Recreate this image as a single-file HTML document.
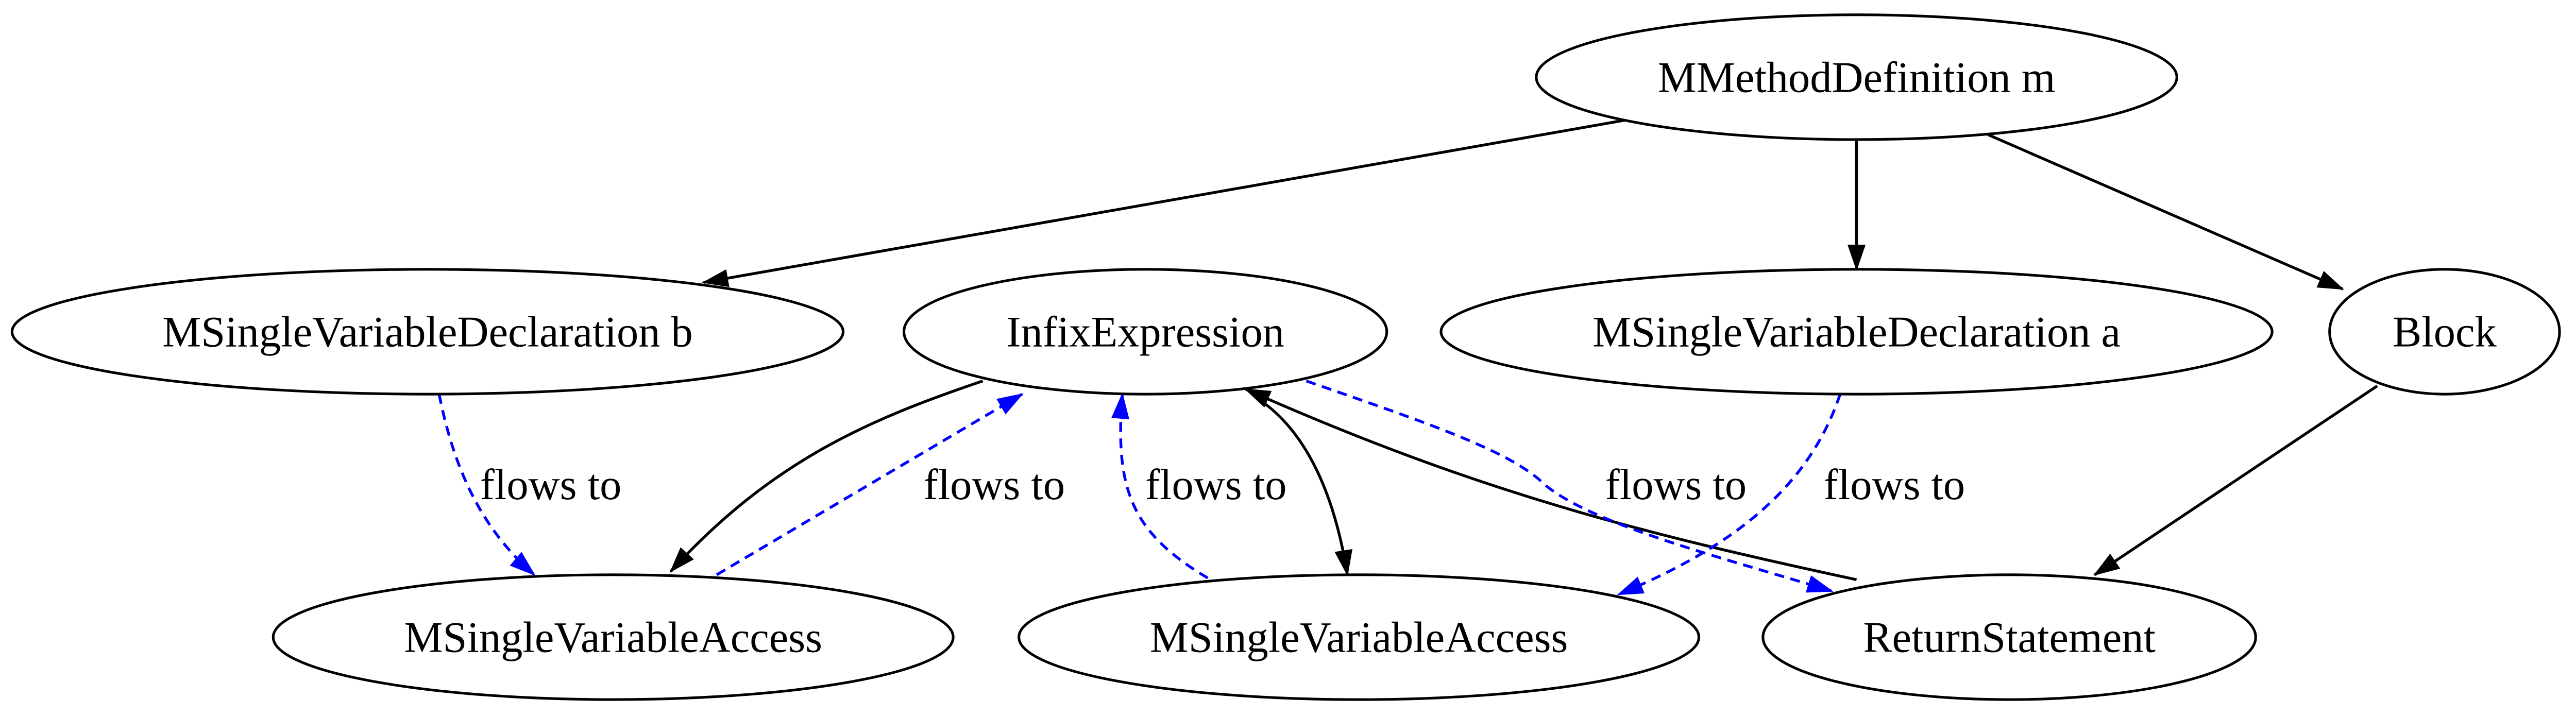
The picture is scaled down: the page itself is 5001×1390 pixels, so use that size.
<!DOCTYPE html>
<html><head><meta charset="utf-8"><style>html,body{margin:0;padding:0;background:#fff}svg{display:block}</style></head>
<body>
<svg width="5001" height="1390" viewBox="0 0 1568 436" xmlns="http://www.w3.org/2000/svg" font-family="Liberation Serif, serif" font-size="26.5">
<defs>
<marker id="ab" markerWidth="16" markerHeight="11" refX="15" refY="5.5" orient="auto" markerUnits="userSpaceOnUse" viewBox="0 0 16 11"><path d="M0,0L16,5.5L0,11z" fill="#000"/></marker>
<marker id="au" markerWidth="16" markerHeight="11" refX="15" refY="5.5" orient="auto" markerUnits="userSpaceOnUse" viewBox="0 0 16 11"><path d="M0,0L16,5.5L0,11z" fill="#00f"/></marker>
</defs>
<style>
.n{fill:#fff;stroke:#000;stroke-width:1.6}
.e{fill:none;stroke:#000;stroke-width:1.7;marker-end:url(#ab)}
.d{fill:none;stroke:#00f;stroke-width:1.7;stroke-dasharray:6,4;marker-end:url(#au)}
text{text-anchor:middle}
</style>
<g>
<path class="e" d="M990,73 L428,172"/>
<path class="e" d="M1130,85 L1130,164"/>
<path class="e" d="M1210,82 L1426,176"/>
<path class="e" d="M1447,235 L1275,350"/>
<path class="e" d="M598,232 C530,255 470,280 408,348"/>
<path class="d" d="M436,350 L622,240"/>
<path class="d" d="M267,240 C275,280 290,320 325,350"/>
<path class="e" d="M770,246 C795,265 812,300 820,350"/>
<path class="e" d="M1130,353 C1000,325 900,300 758,237"/>
<path class="d" d="M735,352 C690,325 678,300 683,240"/>
<path class="d" d="M795,232 C870,258 920,275 940,295 C970,320 1050,340 1115,360"/>
<path class="d" d="M1120,240 C1100,300 1050,335 985,362"/>
</g>
<ellipse class="n" cx="1130" cy="47" rx="195" ry="38"/>
<ellipse class="n" cx="260" cy="202" rx="253" ry="38"/>
<ellipse class="n" cx="697" cy="202" rx="147" ry="38"/>
<ellipse class="n" cx="1130" cy="202" rx="253" ry="38"/>
<ellipse class="n" cx="1488" cy="202" rx="70" ry="38"/>
<ellipse class="n" cx="373" cy="388" rx="207" ry="38"/>
<ellipse class="n" cx="827" cy="388" rx="207" ry="38"/>
<ellipse class="n" cx="1223" cy="388" rx="150" ry="38"/>
<text x="1130" y="56">MMethodDefinition m</text>
<text x="260" y="211">MSingleVariableDeclaration b</text>
<text x="697" y="211">InfixExpression</text>
<text x="1130" y="211">MSingleVariableDeclaration a</text>
<text x="1488" y="211">Block</text>
<text x="373" y="397">MSingleVariableAccess</text>
<text x="827" y="397">MSingleVariableAccess</text>
<text x="1223" y="397">ReturnStatement</text>
<text x="335" y="304">flows to</text>
<text x="605" y="304">flows to</text>
<text x="740" y="304">flows to</text>
<text x="1020" y="304">flows to</text>
<text x="1153" y="304">flows to</text>
</svg>
</body></html>
